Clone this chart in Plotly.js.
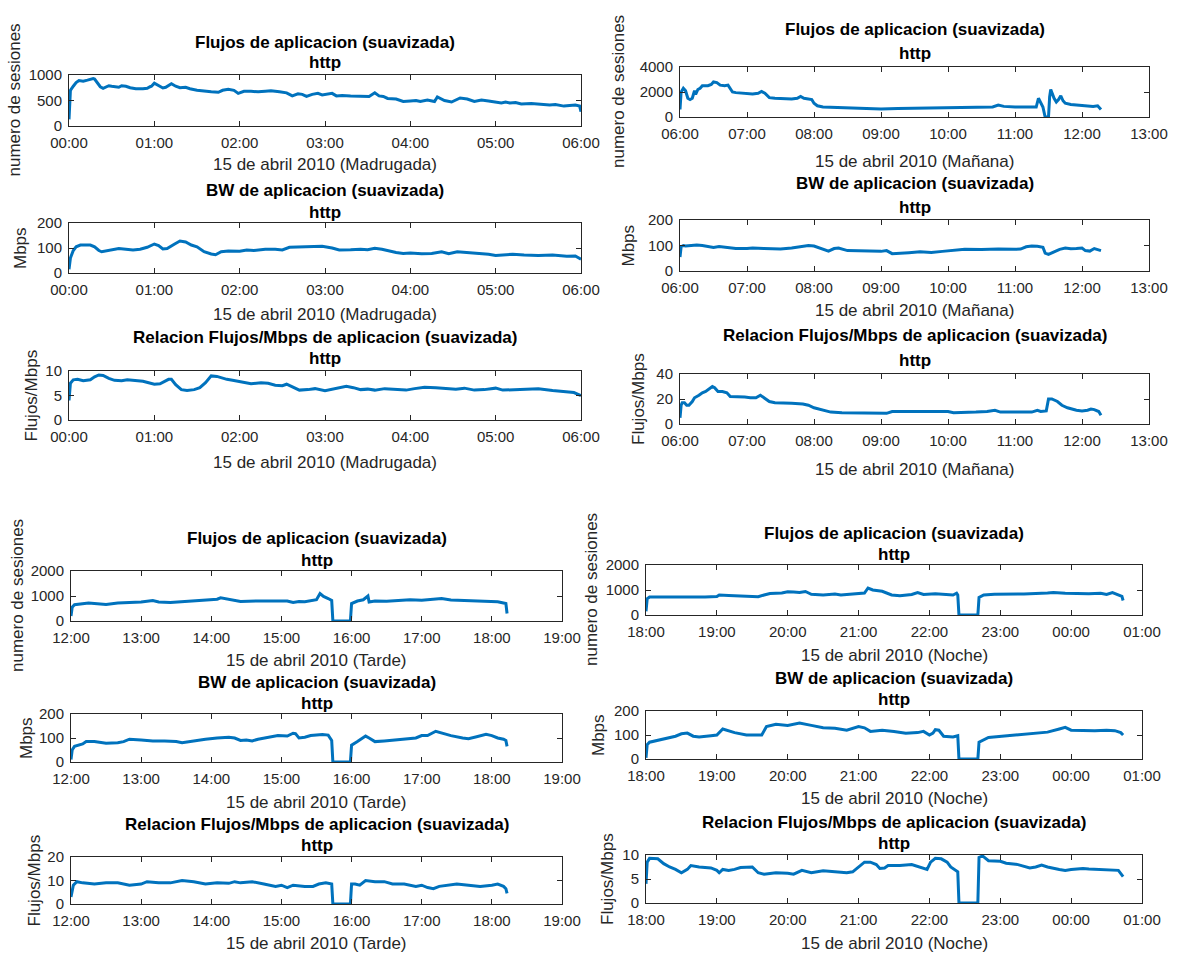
<!DOCTYPE html>
<html>
<head>
<meta charset="utf-8">
<script src="https://cdn.plot.ly/plotly-3.0.1.min.js"></script>
<style>html,body{margin:0;padding:0;background:#fff;}#chart{width:1179px;height:954px;}</style>
</head>
<body>
<div id="chart"></div>
<script>
// ---------- DATA ----------
const rowTitles = ['Flujos de aplicacion (suavizada)', 'BW de aplicacion (suavizada)', 'Relacion Flujos/Mbps de aplicacion (suavizada)'];
const subTitle = 'http';
const yLabels = ['numero de sesiones', 'Mbps', 'Flujos/Mbps'];
const xLabels = ['15 de abril 2010 (Madrugada)', '15 de abril 2010 (Mañana)', '15 de abril 2010 (Tarde)', '15 de abril 2010 (Noche)'];
const xTickFormat = '%H:%M';

// Madrugada (00:00 - 06:00)
const madFlowT = ['00:00','00:01','00:03','00:05','00:07','00:10','00:13','00:15','00:17','00:18',
  '00:20','00:22','00:24','00:26','00:28','00:30','00:33','00:35','00:37','00:40',
  '00:43','00:47','00:52','00:55','00:57','00:58','01:00','01:03','01:06','01:08',
  '01:10','01:12','01:15','01:18','01:22','01:25','01:30','01:35','01:40','01:45',
  '01:48','01:52','01:56','01:59','02:03','02:08','02:13','02:18','02:22','02:28',
  '02:33','02:37','02:41','02:44','02:47','02:51','02:55','02:58','03:02','03:05',
  '03:08','03:12','03:18','03:25','03:31','03:35','03:38','03:41','03:44','03:50',
  '03:55','04:00','04:04','04:07','04:12','04:17','04:19','04:24','04:29','04:35',
  '04:40','04:45','04:50','04:55','05:00','05:04','05:07','05:10','05:14','05:18',
  '05:25','05:32','05:38','05:42','05:48','05:52','05:56','05:59','06:00'];
const madFlowV = [130,700,780,850,890,880,900,920,930,920,
  850,770,740,760,790,780,770,760,790,780,
  750,730,730,740,770,780,840,790,745,760,
  800,830,780,750,760,730,700,680,670,660,
  700,720,700,640,680,680,670,680,690,670,
  650,590,630,620,580,620,640,610,620,640,
  590,600,590,580,580,650,590,580,540,530,
  480,490,500,480,510,480,570,500,470,550,
  530,480,510,490,460,450,470,450,460,430,
  440,430,410,420,390,400,410,390,280];
const madBwT = ['00:00','00:01','00:03','00:05','00:08','00:12','00:15','00:18','00:21','00:23',
  '00:26','00:30','00:35','00:40','00:45','00:50','00:55','01:00','01:03','01:06',
  '01:09','01:14','01:18','01:22','01:26','01:30','01:35','01:40','01:43','01:47',
  '01:52','02:00','02:05','02:10','02:18','02:25','02:30','02:35','02:42','02:50',
  '02:58','03:05','03:10','03:18','03:25','03:30','03:35','03:40','03:45','03:50',
  '03:55','04:00','04:08','04:15','04:22','04:27','04:33','04:40','04:48','04:55',
  '05:00','05:05','05:12','05:20','05:30','05:40','05:45','05:50','05:56','06:00'];
const madBwV = [15,60,90,105,112,113,112,105,90,85,
  88,95,98,95,92,95,103,116,110,96,
  98,115,128,124,112,105,85,76,73,85,
  88,87,92,90,95,95,92,103,104,103,
  107,100,92,93,95,93,99,95,88,82,
  78,80,77,78,85,77,85,82,80,75,
  70,73,75,72,70,72,68,67,68,55];
const madRatT = ['00:00','00:01','00:03','00:06','00:10','00:15','00:18','00:21','00:24','00:28',
  '00:32','00:37','00:41','00:47','00:52','00:56','01:00','01:04','01:07','01:10',
  '01:12','01:15','01:19','01:23','01:28','01:32','01:36','01:40','01:44','01:47',
  '01:51','01:55','01:59','02:03','02:08','02:15','02:20','02:25','02:30','02:33',
  '02:37','02:42','02:48','02:53','03:00','03:05','03:10','03:15','03:20','03:25',
  '03:30','03:35','03:42','03:50','03:57','04:03','04:10','04:18','04:25','04:32',
  '04:38','04:45','04:52','05:00','05:05','05:12','05:20','05:30','05:40','05:48',
  '05:55','06:00'];
const madRatV = [4,7.5,8.2,8.3,8,8.2,8.8,9.2,9.1,8.5,
  8.1,8,8.2,8,7.9,7.6,7.3,7.4,7.8,8.3,
  8.3,7.2,6.2,6,6.2,6.6,7.6,9,8.9,8.6,
  8.3,8.1,7.9,7.8,7.4,7.6,7.5,7.1,7,7.3,
  6.7,6.1,6.2,6.4,6,6.3,6.7,6.9,6.6,6.2,
  6.3,6.1,6.4,6.3,6.1,6.4,6.7,6.6,6.4,6.3,
  6.5,6.1,6.2,6.5,6.1,6.2,6.2,6.4,6,5.8,
  5.6,5];

// Mañana (06:00 - 13:00)
const morFlowT = ['06:00','06:01','06:03','06:05','06:07','06:09','06:11','06:13','06:14','06:16',
  '06:18','06:20','06:25','06:28','06:30','06:33','06:36','06:40','06:43','06:45',
  '06:47','06:50','07:00','07:05','07:10','07:13','07:16','07:20','07:25','07:40',
  '07:45','07:48','07:51','07:58','08:00','08:03','08:08','08:15','08:25','08:40',
  '09:00','09:15','09:30','09:40','09:50','10:00','10:15','10:30','10:40','10:45',
  '10:50','11:00','11:10','11:15','11:19','11:21','11:23','11:25','11:27','11:30',
  '11:31','11:32','11:35','11:37','11:39','11:41','11:43','11:45','11:50','12:00',
  '12:10','12:14','12:16','12:17'];
const morFlowV = [600,2000,2300,2100,1500,1400,1500,2100,1800,2200,
  2300,2500,2500,2600,2800,2750,2550,2500,2550,2300,
  2000,1950,1900,1850,1900,2050,1900,1550,1500,1450,
  1500,1650,1500,1400,1100,900,800,780,700,650,
  650,680,700,700,680,720,730,750,800,950,
  850,800,800,750,800,1500,1200,800,0,0,
  1600,2200,1500,1200,1400,1700,1300,1100,1000,900,
  850,900,700,600];
const morBwT = ['06:00','06:01','06:03','06:05','06:10','06:15','06:20','06:25','06:30','06:35',
  '06:40','06:45','06:50','07:00','07:05','07:15','07:25','07:30','07:40','07:50',
  '07:55','08:00','08:05','08:10','08:13','08:18','08:22','08:30','08:40','08:50',
  '09:00','09:05','09:10','09:15','09:25','09:35','09:45','09:55','10:05','10:15',
  '10:30','10:45','11:00','11:05','11:10','11:15','11:20','11:25','11:27','11:30',
  '11:35','11:40','11:45','11:50','11:55','12:00','12:03','12:07','12:11','12:14',
  '12:17'];
const morBwV = [55,95,100,98,100,102,100,97,92,96,
  94,92,88,88,90,88,88,86,90,97,
  100,98,90,80,78,88,90,80,80,78,
  77,80,68,70,72,75,73,77,80,85,
  84,86,85,86,95,98,97,93,70,65,
  75,85,90,87,88,90,80,78,88,85,
  80];
const morRatT = ['06:00','06:01','06:02','06:04','06:06','06:08','06:11','06:13','06:17','06:20',
  '06:23','06:26','06:29','06:31','06:34','06:38','06:42','06:45','06:50','06:58',
  '07:03','07:08','07:12','07:15','07:20','07:25','07:30','07:40','07:50','07:55',
  '08:00','08:05','08:10','08:15','08:25','08:35','08:45','09:00','09:05','09:10',
  '09:20','09:30','09:40','09:50','10:00','10:05','10:15','10:25','10:35','10:42',
  '10:47','10:55','11:05','11:10','11:15','11:20','11:23','11:28','11:30','11:33',
  '11:38','11:42','11:47','11:55','12:00','12:05','12:08','12:11','12:15','12:17'];
const morRatV = [5,15,17,17,15,15,18,21,23,25,
  26,28,30,29,26,26,25,22,22,21.5,
  21,21,23,21,18,17,17,16.5,16,15,
  13,12,11,9.5,9,9,8.5,8.5,8.5,10,
  10,9.5,10,10,10,9,9,9.5,10,11,
  9.5,9.5,9.5,9,9.5,11,10,10.5,20,20,
  18,15,13,11,10.5,11,12,11.5,10,7];

// Tarde (12:00 - 19:00)
const tarFlowT = ['12:00','12:01','12:03','12:10','12:15','12:20','12:30','12:40','12:50','13:00',
  '13:10','13:15','13:25','13:40','13:55','14:05','14:08','14:15','14:20','14:25',
  '14:40','14:50','15:00','15:05','15:10','15:15','15:20','15:25','15:30','15:33',
  '15:36','15:40','15:43','15:44','15:59','16:00','16:05','16:10','16:13','16:14',
  '16:15','16:20','16:30','16:40','16:50','17:00','17:10','17:17','17:25','17:35',
  '17:45','17:55','18:05','18:10','18:12','18:13'];
const tarFlowV = [200,550,650,680,720,700,660,720,730,760,
  820,760,740,790,830,870,930,870,850,780,
  800,790,780,800,740,780,770,800,850,1100,
  980,900,820,0,0,700,800,850,950,1000,
  760,800,790,820,850,830,860,900,840,820,
  810,800,770,720,700,300];
const tarBwT = ['12:00','12:01','12:03','12:06','12:10','12:13','12:20','12:30','12:40','12:45',
  '12:50','13:00','13:10','13:20','13:30','13:35','13:45','13:55','14:05','14:15',
  '14:20','14:25','14:30','14:35','14:40','14:50','14:57','15:05','15:10','15:12',
  '15:15','15:20','15:25','15:35','15:40','15:43','15:44','15:59','16:00','16:05',
  '16:08','16:12','16:15','16:20','16:28','16:40','16:50','16:55','17:00','17:05',
  '17:12','17:18','17:25','17:35','17:40','17:47','17:55','18:00','18:05','18:10',
  '18:12','18:13'];
const tarBwV = [10,50,65,70,75,85,85,78,80,85,
  95,92,88,88,85,80,88,95,100,103,
  100,90,92,88,95,105,110,108,120,118,
  100,103,110,115,112,90,0,0,70,85,
  95,108,100,85,88,92,97,100,110,110,
  128,120,110,100,97,105,115,110,100,95,
  90,65];
const tarRatT = ['12:00','12:02','12:05','12:10','12:20','12:30','12:40','12:50','13:00','13:05',
  '13:15','13:25','13:35','13:45','13:55','14:05','14:15','14:20','14:25','14:35',
  '14:45','14:55','15:00','15:05','15:10','15:20','15:27','15:32','15:38','15:43',
  '15:44','15:59','16:00','16:03','16:07','16:12','16:20','16:28','16:35','16:45',
  '16:55','17:00','17:05','17:10','17:15','17:25','17:30','17:40','17:50','18:00',
  '18:05','18:10','18:12','18:13'];
const tarRatV = [3,8,9.5,9,8.5,9,9,8,8.5,9.5,
  9,9,10,9.5,8.5,9,8.8,9.5,9,9.5,
  8.5,7.5,8,7,8,7.5,7.5,8.5,9,8.5,
  0,0,8.5,8.5,8,10,9.5,9.5,8.5,8.5,
  7.5,8,7,6.5,7.5,8,8.5,8,7.5,8,
  8.5,7.5,6.5,4.5];

// Noche (18:00 - 01:00)
const nocFlowT = ['18:00','18:01','18:03','18:10','18:20','18:30','18:40','18:50','19:00','19:02',
  '19:10','19:20','19:30','19:35','19:40','19:45','19:55','20:00','20:05','20:10',
  '20:15','20:20','20:30','20:40','20:45','20:55','21:00','21:05','21:08','21:12',
  '21:20','21:28','21:35','21:45','21:50','21:55','22:05','22:15','22:20','22:23',
  '22:24','22:25','22:41','22:42','22:46','22:55','23:10','23:20','23:40','23:45',
  '23:55','00:05','00:15','00:25','00:30','00:35','00:40','00:43','00:44'];
const nocFlowV = [150,650,720,720,700,700,730,720,740,800,
  780,760,720,730,800,860,880,930,920,900,
  940,830,800,840,800,830,840,880,1080,1000,
  950,800,770,820,900,820,850,820,800,870,
  800,0,0,700,800,830,820,840,880,900,
  870,850,850,870,820,900,820,750,580];
const nocBwT = ['18:00','18:01','18:03','18:08','18:15','18:25','18:30','18:35','18:40','18:45',
  '18:55','19:00','19:05','19:08','19:15','19:25','19:35','19:38','19:42','19:50',
  '20:00','20:05','20:10','20:20','20:30','20:40','20:50','21:00','21:05','21:10',
  '21:20','21:30','21:40','21:50','21:55','22:00','22:03','22:05','22:08','22:12',
  '22:20','22:24','22:25','22:41','22:42','22:50','23:00','23:15','23:30','23:40',
  '23:50','23:55','00:00','00:10','00:20','00:30','00:37','00:42','00:44'];
const nocBwV = [5,60,70,75,85,95,105,108,95,92,
  97,100,125,120,110,100,98,100,135,145,
  140,145,150,140,130,128,120,135,130,115,
  120,115,107,110,115,100,108,122,120,95,
  92,97,0,0,70,90,95,100,110,112,
  125,132,120,118,118,120,118,110,100];
const nocRatT = ['18:00','18:01','18:03','18:10','18:15','18:20','18:25','18:30','18:35','18:38',
  '18:45','18:55','19:00','19:02','19:05','19:10','19:15','19:20','19:30','19:35',
  '19:40','19:50','20:00','20:05','20:12','20:20','20:30','20:40','20:50','20:55',
  '21:00','21:05','21:10','21:15','21:18','21:22','21:25','21:35','21:45','21:55',
  '21:58','22:01','22:05','22:10','22:15','22:18','22:21','22:24','22:25','22:41',
  '22:42','22:45','22:50','23:00','23:05','23:15','23:25','23:30','23:35','23:40',
  '23:50','23:55','00:00','00:10','00:15','00:25','00:35','00:40','00:44'];
const nocRatV = [4,8.5,9.3,9.2,8.2,7.5,7,6.3,7,7.8,
  7.5,7.3,6.8,6.3,7,6.8,7,7.4,7.5,6.3,
  6,6.3,6.2,6,6.8,6.3,6.7,6.5,6.3,6.5,
  7.5,8.5,8.5,8,7.2,7.3,7.8,7.8,8,7.2,
  7,8.5,9.3,9.2,8.5,7.5,7,6.5,0,0,
  9.5,9.8,8.8,8.7,8.3,8,7.3,7.5,7.9,7.5,
  7,6.8,7,7.2,7.1,7,7,6.8,5.5];

// y axis tick values per panel
const yTicks = [
  [[0,500,1000],[0,100,200],[0,5,10]],
  [[0,2000,4000],[0,100,200],[0,20,40]],
  [[0,1000,2000],[0,100,200],[0,10,20]],
  [[0,1000,2000],[0,100,200],[0,5,10]]
];
const xRanges = [
  ['2010-04-15 00:00','2010-04-15 06:00'],
  ['2010-04-15 06:00','2010-04-15 13:00'],
  ['2010-04-15 12:00','2010-04-15 19:00'],
  ['2010-04-15 18:00','2010-04-16 01:00']
];
const series = [
  [[madFlowT,madFlowV],[madBwT,madBwV],[madRatT,madRatV]],
  [[morFlowT,morFlowV],[morBwT,morBwV],[morRatT,morRatV]],
  [[tarFlowT,tarFlowV],[tarBwT,tarBwV],[tarRatT,tarRatV]],
  [[nocFlowT,nocFlowV],[nocBwT,nocBwV],[nocRatT,nocRatV]]
];
const rollover = [false,false,false,true];

// ---------- LAYOUT (pixels) ----------
const W = 1179, H = 954;
const quads = [
  {x:[69,581], rows:[[75,126],[223,273],[371,420]], titles:[[43,63],[190,212],[337,359]], xlab:[165,314,462], ylabX:[14,21,31]},
  {x:[680,1149], rows:[[67,117],[220,271],[374,424]], titles:[[30,53],[183,207],[336,360]], xlab:[162,311,469], ylabX:[618,628,638]},
  {x:[71,562], rows:[[571,621],[714,762],[857,904]], titles:[[538,560],[682,703],[824,845]], xlab:[660,802,943], ylabX:[17,26,34]},
  {x:[646,1142], rows:[[565,615],[711,759],[855,903]], titles:[[533,554],[678,699],[822,843]], xlab:[655,798,943], ylabX:[591,598,607]}
];

function toX(times, roll) {
  return times.map(t => {
    const h = parseInt(t.slice(0,2), 10);
    const day = (roll && h < 12) ? '2010-04-16' : '2010-04-15';
    return day + ' ' + t;
  });
}
const px = v => v / W;
const py = v => 1 - v / H;

const FONT = 'Liberation Sans, Arial, Helvetica, sans-serif';
const axisColor = '#262626';
const traces = [];
const layout = {
  width: W, height: H,
  margin: {l:0, r:0, t:0, b:0},
  paper_bgcolor: '#ffffff', plot_bgcolor: '#ffffff',
  showlegend: false,
  font: {family: FONT, size: 15, color: axisColor},
  annotations: []
};

let idx = 0;
quads.forEach((q, qi) => {
  for (let r = 0; r < 3; r++) {
    idx++;
    const xa = 'xaxis' + (idx === 1 ? '' : idx);
    const ya = 'yaxis' + (idx === 1 ? '' : idx);
    const xr = 'x' + (idx === 1 ? '' : idx);
    const yr = 'y' + (idx === 1 ? '' : idx);
    const [T, V] = series[qi][r];
    traces.push({
      type: 'scatter', mode: 'lines',
      x: toX(T, rollover[qi]), y: V,
      xaxis: xr, yaxis: yr,
      line: {color: '#0072BD', width: 3},
      hoverinfo: 'skip'
    });
    const yt = yTicks[qi][r];
    layout[xa] = {
      type: 'date', domain: [px(q.x[0]), px(q.x[1])], anchor: yr,
      range: xRanges[qi], dtick: 3600000, tick0: '2010-04-15 00:00', tickformat: xTickFormat,
      ticks: 'inside', ticklen: 5, tickwidth: 1, tickcolor: axisColor,
      showline: true, linecolor: axisColor, linewidth: 1, mirror: 'ticks',
      showgrid: false, zeroline: false, fixedrange: true,
      tickfont: {family: FONT, size: 15, color: axisColor},
      ticklabelstandoff: 3
    };
    layout[ya] = {
      domain: [py(q.rows[r][1]), py(q.rows[r][0])], anchor: xr,
      range: [yt[0], yt[2]], tickvals: yt, tickformat: 'd',
      ticks: 'inside', ticklen: 5, tickwidth: 1, tickcolor: axisColor,
      showline: true, linecolor: axisColor, linewidth: 1, mirror: 'ticks',
      showgrid: false, zeroline: false, fixedrange: true,
      tickfont: {family: FONT, size: 15, color: axisColor},
      ticklabelstandoff: 3
    };
    const cx = px((q.x[0] + q.x[1]) / 2);
    layout.annotations.push({
      text: '<b>' + rowTitles[r] + '</b>', xref: 'paper', yref: 'paper',
      x: cx, y: py(q.titles[r][0]), xanchor: 'center', yanchor: 'middle', showarrow: false,
      font: {family: FONT, size: 17, color: '#000000'}
    });
    layout.annotations.push({
      text: '<b>' + subTitle + '</b>', xref: 'paper', yref: 'paper',
      x: cx, y: py(q.titles[r][1]), xanchor: 'center', yanchor: 'middle', showarrow: false,
      font: {family: FONT, size: 17, color: '#000000'}
    });
    layout.annotations.push({
      text: xLabels[qi], xref: 'paper', yref: 'paper',
      x: cx, y: py(q.xlab[r]), xanchor: 'center', yanchor: 'middle', showarrow: false,
      font: {family: FONT, size: 17, color: axisColor}
    });
    layout.annotations.push({
      text: yLabels[r], xref: 'paper', yref: 'paper', textangle: -90,
      x: px(q.ylabX[r]), y: py((q.rows[r][0] + q.rows[r][1]) / 2), xanchor: 'center', yanchor: 'middle', showarrow: false,
      font: {family: FONT, size: 17, color: axisColor}
    });
  }
});

Plotly.newPlot('chart', traces, layout, {staticPlot: true, displayModeBar: false});
</script>
</body>
</html>
